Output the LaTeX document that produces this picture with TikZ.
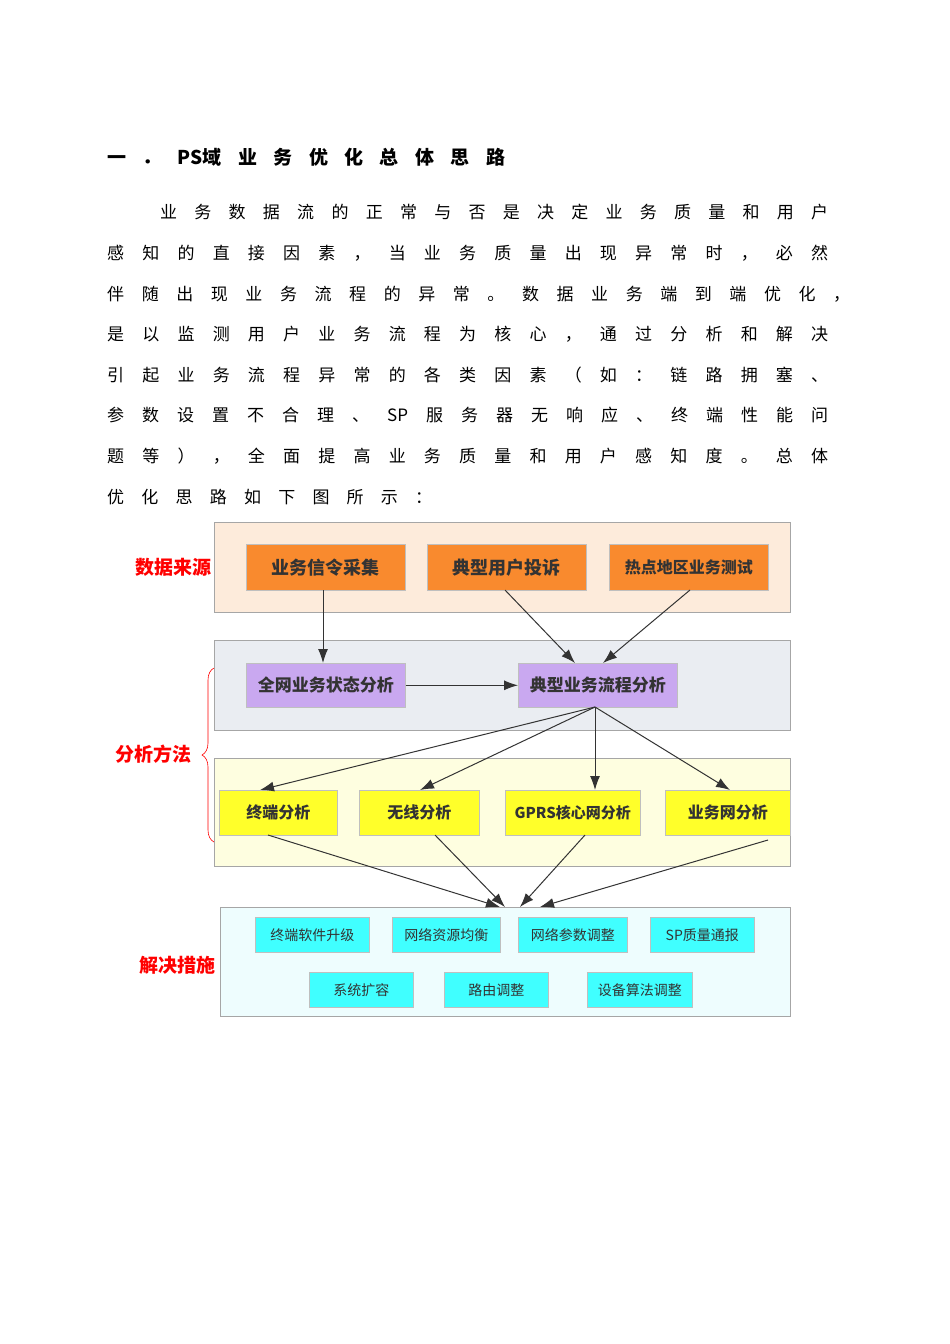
\documentclass[tikz,border=0pt]{standalone}
\usepackage{fontspec}
\setmainfont{Noto Sans CJK SC}
\definecolor{peach}{HTML}{FDEBDB}
\definecolor{grayb}{HTML}{EAEDF2}
\definecolor{ylb}{HTML}{FEFEE0}
\definecolor{cyb}{HTML}{EEFDFE}
\definecolor{org}{HTML}{F98A2E}
\definecolor{pur}{HTML}{C9A8F0}
\definecolor{yel}{HTML}{FFFF2A}
\definecolor{cya}{HTML}{40FFFF}
\definecolor{txt}{HTML}{333333}
\usetikzlibrary{arrows.meta,decorations.pathreplacing}
\tikzset{
 grp/.style={draw=gray!70,line width=0.8pt},
 bx/.style={draw=gray!50,line width=0.6pt,anchor=north west,inner sep=0pt,font=\fontsize{18}{18}\selectfont\bfseries,text=txt},
 cb/.style={draw=gray!50,line width=0.6pt,anchor=north west,inner sep=0pt,font=\fontsize{14}{14}\selectfont,text=txt,fill=cya},
 lbl/.style={text=red,font=\fontsize{19}{19}\selectfont\bfseries},
 ar/.style={-{Latex[length=14pt,width=10pt]},line width=1pt,draw=black!80},
 para/.style={anchor=west,inner sep=0pt,font=\fontsize{17}{17}\selectfont}
}
\begin{document}
\begin{tikzpicture}[x=1pt,y=-1pt]
\useasboundingbox[fill=white] (0,0) rectangle (950,1344);
\node[anchor=west,inner sep=0pt,font=\fontsize{19}{19}\selectfont\bfseries] (h) at (107,157) {\makebox[398pt][s]{一 ． PS域 业 务 优 化 总 体 思 路}};
\node[para] (p1) at (160,212) {\makebox[668pt][s]{业 务 数 据 流 的 正 常 与 否 是 决 定 业 务 质 量 和 用 户}};
\node[para] (p2) at (107,253) {\makebox[721pt][s]{感 知 的 直 接 因 素 ， 当 业 务 质 量 出 现 异 常 时 ， 必 然}};
\node[para] (p3) at (107,294) {\makebox[743pt][s]{伴 随 出 现 业 务 流 程 的 异 常 。 数 据 业 务 端 到 端 优 化 ，}};
\node[para] (p4) at (107,334) {\makebox[721pt][s]{是 以 监 测 用 户 业 务 流 程 为 核 心 ， 通 过 分 析 和 解 决}};
\node[para] (p5) at (107,375) {\makebox[721pt][s]{引 起 业 务 流 程 异 常 的 各 类 因 素 （ 如 ： 链 路 拥 塞 、}};
\node[para] (p6) at (107,415) {\makebox[721pt][s]{参 数 设 置 不 合 理 、 SP 服 务 器 无 响 应 、 终 端 性 能 问}};
\node[para] (p7) at (107,456) {\makebox[721pt][s]{题 等 ） ， 全 面 提 高 业 务 质 量 和 用 户 感 知 度 。 总 体}};
\node[para] (p8) at (107,497) {\makebox[325pt][s]{优 化 思 路 如 下 图 所 示 ：}};
% groups
\node[grp,fill=peach,anchor=north west,minimum width=576pt,minimum height=90pt,inner sep=0pt] (g1) at (214,522) {};
\node[grp,fill=grayb,anchor=north west,minimum width=576pt,minimum height=90pt,inner sep=0pt] (g2) at (214,640) {};
\node[grp,fill=ylb,anchor=north west,minimum width=576pt,minimum height=108pt,inner sep=0pt] (g3) at (214,758) {};
\node[grp,fill=cyb,anchor=north west,minimum width=570pt,minimum height=109pt,inner sep=0pt] (g4) at (220,907) {};
% orange
\node[bx,fill=org,minimum width=159pt,minimum height=46pt] (o1) at (246,544) {业务信令采集};
\node[bx,fill=org,minimum width=159pt,minimum height=46pt] (o2) at (427,544) {典型用户投诉};
\node[bx,fill=org,minimum width=159pt,minimum height=46pt,font=\fontsize{16}{16}\selectfont\bfseries] (o3) at (609,544) {热点地区业务测试};
% purple
\node[bx,fill=pur,minimum width=159pt,minimum height=44pt,font=\fontsize{17}{17}\selectfont\bfseries] (u1) at (246,663) {全网业务状态分析};
\node[bx,fill=pur,minimum width=159pt,minimum height=44pt,font=\fontsize{17}{17}\selectfont\bfseries] (u2) at (518,663) {典型业务流程分析};
% yellow
\node[bx,fill=yel,minimum width=118pt,minimum height=45pt,font=\fontsize{16}{16}\selectfont\bfseries] (y1) at (219,790) {终端分析};
\node[bx,fill=yel,minimum width=120pt,minimum height=45pt,font=\fontsize{16}{16}\selectfont\bfseries] (y2) at (359,790) {无线分析};
\node[bx,fill=yel,minimum width=135pt,minimum height=45pt,font=\fontsize{15}{15}\selectfont\bfseries] (y3) at (505,790) {GPRS核心网分析};
\node[bx,fill=yel,minimum width=125pt,minimum height=45pt,font=\fontsize{16}{16}\selectfont\bfseries] (y4) at (665,790) {业务网分析};
% cyan
\node[cb,minimum width=114pt,minimum height=35pt] (c1) at (255,917) {终端软件升级};
\node[cb,minimum width=108pt,minimum height=35pt] (c2) at (392,917) {网络资源均衡};
\node[cb,minimum width=109pt,minimum height=35pt] (c3) at (518,917) {网络参数调整};
\node[cb,minimum width=104pt,minimum height=35pt] (c4) at (650,917) {SP质量通报};
\node[cb,minimum width=104pt,minimum height=35pt] (c5) at (309,972) {系统扩容};
\node[cb,minimum width=104pt,minimum height=35pt] (c6) at (444,972) {路由调整};
\node[cb,minimum width=105pt,minimum height=35pt] (c7) at (587,972) {设备算法调整};
% labels
\node[lbl] (l1) at (173,567) {数据来源};
\node[lbl] (l2) at (153,754) {分析方法};
\node[lbl] (l3) at (177,965) {解决措施};
\draw[red,line width=0.6pt,decorate,decoration={brace,amplitude=12pt}] (214,842) -- (214,668);
% arrows
\coordinate (u1t) at (323,663);
\coordinate (u2t1) at (575,663);
\coordinate (u2t2) at (603,663);
\coordinate (u2b) at (595,707);
\coordinate (o2b) at (505,590);
\coordinate (o3b) at (690,590);
\coordinate (o1b) at (323,590);
\draw[ar] (o1b) -- (u1t);
\draw[ar] (o2b) -- (u2t1);
\draw[ar] (o3b) -- (u2t2);
\draw[ar] (u1.east) -- (u2.west);
\coordinate (y1t) at (260,790);
\coordinate (y2t) at (420,790);
\coordinate (y3t) at (595,790);
\coordinate (y4t) at (730,790);
\draw[ar] (u2b) -- (y1t);
\draw[ar] (u2b) -- (y2t);
\draw[ar] (u2b) -- (y3t);
\draw[ar] (u2b) -- (y4t);
\coordinate (y1b) at (268,835);
\coordinate (y2b) at (435,835);
\coordinate (y3b) at (585,835);
\coordinate (y4b) at (768,840);
\coordinate (s1) at (500,907);
\coordinate (s2) at (505,907);
\coordinate (s3) at (520,907);
\coordinate (s4) at (540,907);
\draw[ar] (y1b) -- (s1);
\draw[ar] (y2b) -- (s2);
\draw[ar] (y3b) -- (s3);
\draw[ar] (y4b) -- (s4);
\end{tikzpicture}
\end{document}
